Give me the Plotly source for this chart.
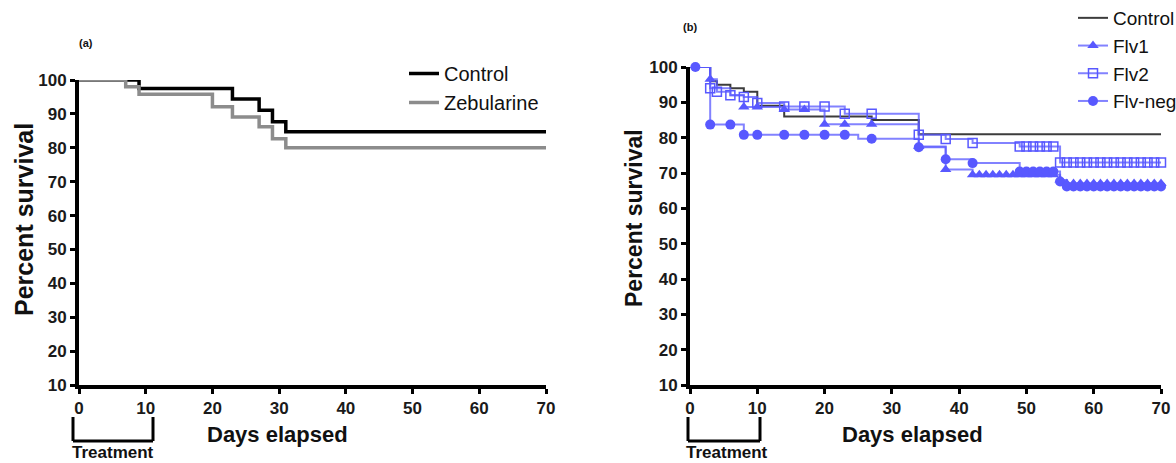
import plotly.graph_objects as go

W, H = 1176, 463
def px(x): return x / W
def py(y): return 1 - y / H

# ---------------- Panel (a) data ----------------
a_ctrl_days = [0, 9, 23, 27, 29, 31, 70]
a_ctrl_surv = [100, 97.5, 94.4, 91.1, 87.7, 84.7, 84.7]
a_zeb_days = [0, 7, 9, 20, 23, 27, 29, 31, 70]
a_zeb_surv = [100, 98.0, 95.8, 92.1, 89.1, 86.2, 82.7, 80.0, 80.0]

# ---------------- Panel (b) data ----------------
b_ctrl_days = [0, 3, 4, 6, 8, 10, 14, 27, 34, 70]
b_ctrl_surv = [100, 96, 95, 94, 93, 89, 86, 85, 81, 81]

flv1_days = [0, 3, 4, 6, 8, 14, 20, 34, 38, 42, 55, 56, 70]
flv1_surv = [100, 96.5, 94, 92, 88.7, 88, 83.8, 77.5, 71, 69.5, 68, 67, 67]
flv1_mark_days = [3, 8, 10, 14, 17, 20, 23, 27, 34, 38,
                  42, 43, 44, 45, 46, 47, 48, 49, 50, 51, 52, 53, 54,
                  55, 56, 57, 58, 59, 60, 61, 62, 63, 64, 65, 66, 67, 68, 69, 70]
flv1_mark_surv = [96.5, 88.7, 88.7, 88, 88, 83.8, 83.8, 83.8, 77.5, 71,
                  69.5, 69.5, 69.5, 69.5, 69.5, 69.5, 69.5, 69.5, 69.5, 69.5, 69.5, 69.5, 69.5,
                  68, 67, 67, 67, 67, 67, 67, 67, 67, 67, 67, 67, 67, 67, 67, 67]

flv2_days = [0, 3, 4, 6, 8, 10, 14, 23, 34, 38, 42, 49, 55, 70]
flv2_surv = [100, 94, 93, 92, 91.5, 89.8, 88.8, 86.8, 80.8, 79.6, 78.5, 77.5, 73, 73]
flv2_mark_days = [3, 4, 6, 8, 10, 14, 17, 20, 23, 27, 34, 38, 42,
                  49, 50, 51, 52, 53, 54,
                  55, 56, 57, 58, 59, 60, 61, 62, 63, 64, 65, 66, 67, 68, 69, 70]
flv2_mark_surv = [94, 93, 92, 91.5, 89.8, 88.8, 88.8, 88.8, 86.8, 86.8, 80.8, 79.6, 78.5,
                  77.5, 77.5, 77.5, 77.5, 77.5, 77.5,
                  73, 73, 73, 73, 73, 73, 73, 73, 73, 73, 73, 73, 73, 73, 73, 73]

fneg_days = [0, 3, 8, 25, 34, 38, 42, 49, 55, 56, 70]
fneg_surv = [100, 83.7, 80.8, 79.7, 77.3, 73.9, 72.8, 70.4, 67.6, 66.2, 66.2]
fneg_mark_days = [0.8, 3, 6, 8, 10, 14, 17, 20, 23, 27, 34, 38, 42,
                  49, 50, 51, 52, 53, 54, 55,
                  56, 57, 58, 59, 60, 61, 62, 63, 64, 65, 66, 67, 68, 69, 70]
fneg_mark_surv = [100, 83.7, 83.7, 80.8, 80.8, 80.8, 80.8, 80.8, 80.8, 79.7, 77.3, 73.9, 72.8,
                  70.4, 70.4, 70.4, 70.4, 70.4, 70.4, 67.6,
                  66.2, 66.2, 66.2, 66.2, 66.2, 66.2, 66.2, 66.2, 66.2, 66.2, 66.2, 66.2, 66.2, 66.2, 66.2]

x_ticks = [0, 10, 20, 30, 40, 50, 60, 70]
y_ticks = [10, 20, 30, 40, 50, 60, 70, 80, 90, 100]

BLUE = "rgb(88,88,255)"
BLUE_LINE = "rgba(88,88,255,0.75)"
FONT = "Liberation Sans, Arial, sans-serif"

fig = go.Figure()

# Panel (a)
fig.add_trace(go.Scatter(x=a_ctrl_days, y=a_ctrl_surv, mode="lines", line_shape="hv",
                         line=dict(color="black", width=3.5), name="Control",
                         xaxis="x", yaxis="y", legend="legend", cliponaxis=False))
fig.add_trace(go.Scatter(x=a_zeb_days, y=a_zeb_surv, mode="lines", line_shape="hv",
                         line=dict(color="rgb(140,140,140)", width=3.5), name="Zebularine",
                         xaxis="x", yaxis="y", legend="legend", cliponaxis=False))

# Panel (b) lines
fig.add_trace(go.Scatter(x=b_ctrl_days, y=b_ctrl_surv, mode="lines", line_shape="hv",
                         line=dict(color="rgb(60,60,60)", width=2), name="Control",
                         xaxis="x2", yaxis="y2", legend="legend2", cliponaxis=False))
series = [
    ("Flv1", flv1_days, flv1_surv, flv1_mark_days, flv1_mark_surv,
     dict(symbol="triangle-up", size=10, color=BLUE)),
    ("Flv2", flv2_days, flv2_surv, flv2_mark_days, flv2_mark_surv,
     dict(symbol="square-open", size=9, color=BLUE, line=dict(width=1.5, color=BLUE))),
    ("Flv-neg", fneg_days, fneg_surv, fneg_mark_days, fneg_mark_surv,
     dict(symbol="circle", size=10, color=BLUE)),
]
for name, d, s, md, ms, mk in series:
    fig.add_trace(go.Scatter(x=d, y=s, mode="lines", line_shape="hv",
                             line=dict(color=BLUE_LINE, width=2), showlegend=False,
                             xaxis="x2", yaxis="y2", cliponaxis=False, hoverinfo="skip"))
    fig.add_trace(go.Scatter(x=md, y=ms, mode="markers", marker=mk, showlegend=False,
                             xaxis="x2", yaxis="y2", cliponaxis=False, name=name))
    fig.add_trace(go.Scatter(x=[None], y=[None], mode="lines+markers", marker=mk,
                             line=dict(color=BLUE_LINE, width=2), name=name,
                             xaxis="x2", yaxis="y2", legend="legend2"))

axis_common = dict(showline=True, linecolor="black", linewidth=4, ticks="outside",
                   ticklen=5, tickwidth=2.5, tickcolor="black", showgrid=False,
                   zeroline=False, automargin=False,
                   tickfont=dict(family=FONT, size=17, color="#1a1a1a", weight="bold"),
                   fixedrange=True)

fig.update_layout(
    width=W, height=H, margin=dict(l=0, r=0, t=0, b=0, autoexpand=False),
    paper_bgcolor="white", plot_bgcolor="white",
    font=dict(family=FONT, color="black"),
    xaxis=dict(domain=[px(79), px(546)], range=[0, 70], tickvals=x_ticks, anchor="y", **axis_common),
    yaxis=dict(domain=[py(385), py(80)], range=[10, 100], tickvals=y_ticks, anchor="x", **axis_common),
    xaxis2=dict(domain=[px(690), px(1161)], range=[0, 70], tickvals=x_ticks, anchor="y2", **axis_common),
    yaxis2=dict(domain=[py(385), py(67)], range=[10, 100], tickvals=y_ticks, anchor="x2", **axis_common),
    legend=dict(x=px(404), y=py(54), xanchor="left", yanchor="top", bgcolor="rgba(0,0,0,0)",
                font=dict(family=FONT, size=20, color="#111")),
    legend2=dict(x=px(1073), y=py(-1), xanchor="left", yanchor="top", bgcolor="rgba(0,0,0,0)",
                 font=dict(family=FONT, size=19, color="#111")),
    showlegend=True,
)

shapes = []
for left, right in [(73, 153), (688, 760)]:
    shapes += [
        dict(type="line", xref="paper", yref="paper", x0=px(left), x1=px(left), y0=py(417), y1=py(441),
             line=dict(color="black", width=3)),
        dict(type="line", xref="paper", yref="paper", x0=px(right), x1=px(right), y0=py(417), y1=py(441),
             line=dict(color="black", width=3)),
        dict(type="line", xref="paper", yref="paper", x0=px(left), x1=px(right), y0=py(441), y1=py(441),
             line=dict(color="black", width=3)),
    ]
fig.update_layout(shapes=shapes)

def ann(text, x, y, size, bold=True, angle=0):
    fig.add_annotation(text=text, xref="paper", yref="paper", x=px(x), y=py(y),
                       xanchor="center", yanchor="middle", showarrow=False, textangle=angle,
                       font=dict(family=FONT, size=size, color="#111", weight="bold" if bold else "normal"))

ann("Treatment", 113, 452, 17)
ann("Treatment", 727, 452, 17)
ann("Days elapsed", 277, 434, 22)
ann("Days elapsed", 912, 434, 22)
ann("Percent survival", 24, 220, 25, angle=-90)
ann("Percent survival", 634, 218, 23, angle=-90)
ann("(a)", 86, 43, 11)
ann("(b)", 690, 27, 11)

fig.write_html("out.html", config={"displayModeBar": False},
               post_script="document.body.style.margin='0';document.body.style.overflow='hidden';")
